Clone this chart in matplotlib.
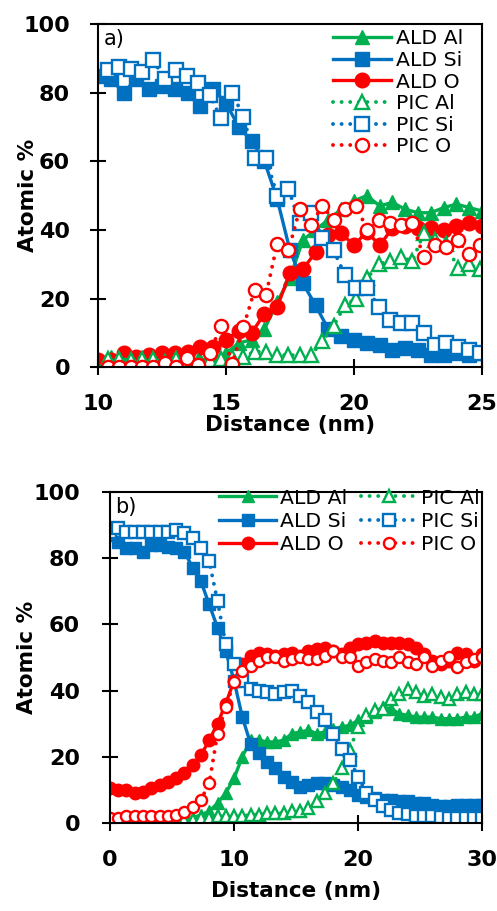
import matplotlib
matplotlib.use("Agg")
import matplotlib.pyplot as plt
import numpy as np

plt.rcParams['font.family'] = ['DejaVu Sans']

GREEN = '#00B050'
BLUE = '#0070C0'
RED = '#FF0000'

# ---- panel a data (ALD step 0.5 nm, PIC step 0.44 nm) ----
a_ald_x = np.round(np.arange(31) * 0.5 + 10.0, 2)
a_ald_al = [2, 3, 2.5, 2, 2.5, 2, 2.5, 2, 2, 2.5, 4, 7, 8, 11, 19, 26, 37, 40, 43, 46,
            48.5, 50, 47, 48, 46, 45, 45, 46.5, 47.5, 46.5, 45.5]
a_ald_si = [85, 84, 80, 84, 81, 82, 81, 80, 76, 81, 77, 70, 66, 60, 49, 34, 24.5, 18, 11, 9,
            8, 7, 6.5, 5, 5.5, 5, 3.5, 3.5, 4, 3.5, 4]
a_ald_o = [2, 2, 4, 3, 3.5, 4, 4, 4.5, 6, 6, 8, 10.5, 10, 15.5, 17.5, 27.5, 28.5, 33.5, 38.5, 39,
           35.5, 39.5, 35.5, 40.5, 41, 40.5, 40.5, 40, 41, 42, 41]

a_pic_x = np.round(np.arange(34) * 0.44 + 10.4, 2)
a_pic_al = [2.5, 2.5, 2, 2.5, 2.5, 1.5, 2.5, 1, 1.5, 2, 2.5, 3, 3, 4.5, 4.5, 3.5, 3.5, 3.5, 3.5,
            7.5, 12, 18, 20, 26, 30, 31, 32, 31, 39, 37, 36, 29, 30, 28.5]
a_pic_si = [86.6, 87.5, 87, 86, 89.5, 84, 86.6, 85, 82.8, 79.3, 72.6, 80, 73, 61, 61, 50, 52, 42,
            45, 37.6, 34, 27, 23, 23, 17.5, 13.7, 12.8, 12.8, 10, 6.4, 7, 6, 5, 4]
a_pic_o = [0, 0, 0, 0, 0, 1.2, 0, 2.7, 0.6, 4, 12, 1, 11.7, 22.5, 21, 36, 34, 46, 41.5, 47, 43,
           46, 47, 40, 43, 42, 41.5, 42, 32, 35.5, 35, 37, 33, 35.6]

# ---- panel b data (step 2/3 nm) ----
b_x = np.round(np.arange(46) * (2.0 / 3.0), 2)
b_ald_al = [0, 0, 0, 0, 0, 0.5, 0.5, 0.5, 0.5, 1, 1.5, 2.5, 3.5, 6, 9, 13.5, 20, 25, 25, 24.5,
            24.5, 25, 27, 27.5, 28, 27, 27.5, 28.5, 29, 29.5, 31, 32, 33.5, 35, 34.5, 33, 32.5,
            32, 32, 32, 31.5, 31.5, 31.5, 32, 32, 33]
b_ald_si = [87, 85, 83, 83, 82, 84, 84, 83.5, 83, 82, 77, 73, 66, 59, 52, 43, 32, 24, 21, 18.5,
            16.5, 14, 12.5, 11, 11.5, 12, 12, 11.5, 11, 10, 8.5, 8, 7.5, 7, 7, 6.5, 6.5, 6, 6,
            5.5, 5, 5, 5.5, 5.5, 5.5, 5.5]
b_ald_o = [10.5, 10, 10, 9, 9.5, 10.5, 11.5, 12.5, 13.5, 15, 17.5, 20.5, 25, 30, 36, 43, 48,
           50.5, 51.5, 51, 50.5, 51, 51.5, 50.5, 52, 52.5, 53, 52, 51, 53, 54, 54.5, 55, 54.5,
           54.5, 54.5, 54, 53, 51, 49, 48, 49, 51.5, 51, 49, 51]
b_pic_al = [0, 0, 0, 0, 0, 0, 0.5, 0.5, 0.5, 1, 1, 1.5, 1.5, 2, 2, 2, 2, 2.5, 2.5, 3, 3, 3,
            3.5, 3.5, 4.5, 6.5, 9, 12, 16.5, 22, 29, 32.5, 34, 34.5, 37.5, 39, 40.5, 39.5, 38.5,
            39, 38, 37.5, 39, 39.5, 39, 39]
b_pic_si = [88, 89, 88, 88, 88, 88, 88, 88, 88.5, 87.5, 86, 83, 79, 67, 54, 48, 43, 40.5, 40,
            39.5, 39, 39.5, 40, 38.5, 36.5, 33.5, 31, 27, 22.5, 19, 14, 9, 7, 5, 4, 3, 2.7, 2, 2,
            2, 1.8, 1.5, 1.5, 1.5, 1.5, 1.5]
b_pic_o = [1.5, 1.5, 2, 2, 2, 2, 2, 2, 2.3, 3.3, 4.8, 7, 12, 27, 35, 42.5, 46, 47.5, 49, 50, 50,
           49, 49.5, 50, 49.5, 49.5, 50.5, 52, 50, 50, 47.5, 48.5, 49.5, 49, 48.5, 50, 48.5, 48,
           50, 47.5, 49, 50, 47, 48.5, 49.5, 50]

labels = ['ALD Al', 'ALD Si', 'ALD O', 'PIC Al', 'PIC Si', 'PIC O']
colors = [GREEN, BLUE, RED]
marks = ['^', 's', 'o']
DOT = (0, (0.01, 2.2))


def draw(ax, ald_x, ald, pic_x, pic, ms):
    handles = []
    for y, c, m, lab in zip(ald, colors, marks, labels[:3]):
        h, = ax.plot(ald_x, y, color=c, lw=2.4, marker=m, ms=ms, mfc=c, mec=c, label=lab)
        handles.append(h)
    for y, c, m, lab in zip(pic, colors, marks, labels[3:]):
        h, = ax.plot(pic_x, y, color=c, lw=2.8, ls=DOT, dash_capstyle='round', marker=m,
                     ms=ms - 1, mfc='white', mec=c, mew=1.7, label=lab)
        handles.append(h)
    return handles


def style(ax, xticks, letter, ypad, xlabelpad, ylab_x):
    ax.set_ylim(0, 100)
    ax.set_yticks(range(0, 101, 20))
    ax.set_xticks(xticks)
    ax.set_xlim(xticks[0], xticks[-1])
    for s in ax.spines.values():
        s.set_linewidth(1.5)
    ax.tick_params(direction='inout', length=11, width=1.5, labelsize=16)
    ax.tick_params(axis='y', pad=ypad)
    ax.tick_params(axis='x', pad=14)
    for t in ax.get_xticklabels() + ax.get_yticklabels():
        t.set_fontweight('bold')
    ax.set_xlabel('Distance (nm)', fontsize=15.5, fontweight='bold', labelpad=xlabelpad)
    ax.set_ylabel('Atomic %', fontsize=15.5, fontweight='bold')
    ax.yaxis.set_label_coords(ylab_x, 0.5)
    ax.text(0.015, 0.985, letter, transform=ax.transAxes, fontsize=15, va='top', ha='left')


fig = plt.figure(figsize=(4.97, 9.11), dpi=100)

ax1 = fig.add_axes([0.197, 0.597, 0.773, 0.3766])
h1 = draw(ax1, a_ald_x, [a_ald_al, a_ald_si, a_ald_o], a_pic_x, [a_pic_al, a_pic_si, a_pic_o], 10.5)
style(ax1, [10, 15, 20, 25], 'a)', 14.5, 0.5, -0.156)
ax1.legend(handles=h1, loc='upper right', bbox_to_anchor=(0.95, 0.985), frameon=False,
           fontsize=14.7, handlelength=2.8, handletextpad=0.25, labelspacing=0.13,
           borderaxespad=0, borderpad=0)

ax2 = fig.add_axes([0.2213, 0.0966, 0.7487, 0.3634])
h2 = draw(ax2, b_x, [b_ald_al, b_ald_si, b_ald_o], b_x, [b_pic_al, b_pic_si, b_pic_o], 9)
style(ax2, [0, 10, 20, 30], 'b)', 16, 8, -0.196)
ax2.legend(handles=h2, loc='upper right', bbox_to_anchor=(0.995, 1.01), ncol=2, frameon=False,
           fontsize=14.7, handlelength=2.75, handletextpad=0.2, labelspacing=0.2,
           columnspacing=0.7, borderaxespad=0, borderpad=0)

fig.savefig('out.png', dpi=100)
